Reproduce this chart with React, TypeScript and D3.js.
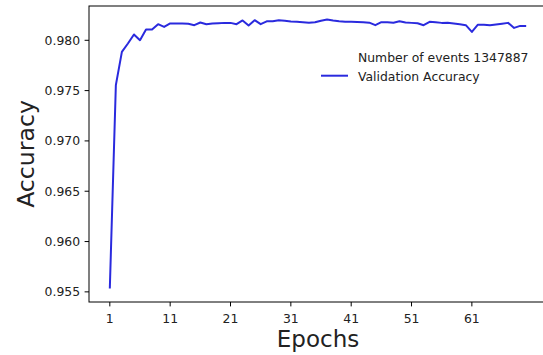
import React from "react";
import * as d3 from "d3";

const epochs: number[] = Array.from({ length: 70 }, (_, i) => i + 1);
const accuracy: number[] = [
  0.95533, 0.97554, 0.97885, 0.97968, 0.98058, 0.98001, 0.98107, 0.98107, 0.9816, 0.98133,
  0.98167, 0.98167, 0.98167, 0.98165, 0.9815, 0.98177, 0.9816, 0.98167, 0.9817, 0.98173,
  0.98173, 0.9816, 0.98197, 0.98147, 0.982, 0.9816, 0.98188, 0.9819, 0.982, 0.98195,
  0.98187, 0.98183, 0.9818, 0.98175, 0.9818, 0.98195, 0.98207, 0.98197, 0.9819, 0.98185,
  0.98183, 0.98182, 0.9818, 0.98175, 0.9815, 0.9818, 0.9818, 0.98175, 0.9819, 0.98177,
  0.98173, 0.9817, 0.9815, 0.98183, 0.9818, 0.98173, 0.98175, 0.98167, 0.9816, 0.9815,
  0.98083, 0.98155, 0.98155, 0.9815, 0.98157, 0.98165, 0.98173, 0.98123, 0.98143, 0.98143,
];
const xTicks: number[] = [1, 11, 21, 31, 41, 51, 61];
const yTicks: number[] = [0.955, 0.96, 0.965, 0.97, 0.975, 0.98];
const legendLabels: string[] = ["Number of events 1347887", "Validation Accuracy"];
const xLabel = "Epochs";
const yLabel = "Accuracy";

const W = 543;
const H = 355;
const plot = { left: 89, right: 547, top: 6, bottom: 302 };
const FONT = "DejaVu Sans, sans-serif";
const LINE = "#2a2ade";

export default function App() {
  const xMin = d3.min(epochs)!;
  const xMax = d3.max(epochs)!;
  const xPad = (xMax - xMin) * 0.05;
  const yMin = d3.min(accuracy)!;
  const yMax = d3.max(accuracy)!;
  const yPad = (yMax - yMin) * 0.05;

  const x = d3.scaleLinear().domain([xMin - xPad, xMax + xPad]).range([plot.left, plot.right]);
  const y = d3.scaleLinear().domain([yMin - yPad, yMax + yPad]).range([plot.bottom, plot.top]);

  const line = d3
    .line<number>()
    .x((_, i) => x(epochs[i]))
    .y((d) => y(d));

  const tickLen = 4.4;
  const fs = 12.4;

  return (
    <svg
      width={W}
      height={H}
      style={{ position: "absolute", left: 0, top: 0, background: "#fff" }}
      fontFamily={FONT}
    >
      <rect x={0} y={0} width={W} height={H} fill="#fff" />
      <path d={line(accuracy) || ""} fill="none" stroke={LINE} strokeWidth={2} strokeLinejoin="round" />
      {/* spines */}
      <rect
        x={plot.left}
        y={plot.top}
        width={plot.right - plot.left}
        height={plot.bottom - plot.top}
        fill="none"
        stroke="#000"
        strokeWidth={1}
      />
      {/* y ticks */}
      {yTicks.map((t) => (
        <g key={t}>
          <line x1={plot.left - tickLen} x2={plot.left} y1={y(t)} y2={y(t)} stroke="#000" strokeWidth={1} />
          <text x={plot.left - tickLen - 4.5} y={y(t)} dy="0.36em" textAnchor="end" fontSize={fs} fill="#222">
            {d3.format(".3f")(t)}
          </text>
        </g>
      ))}
      {/* x ticks */}
      {xTicks.map((t) => (
        <g key={t}>
          <line x1={x(t)} x2={x(t)} y1={plot.bottom} y2={plot.bottom + tickLen} stroke="#000" strokeWidth={1} />
          <text x={x(t)} y={322.5} textAnchor="middle" fontSize={fs} fill="#222">
            {t}
          </text>
        </g>
      ))}
      {/* axis labels */}
      <text x={(plot.left + plot.right) / 2} y={347} textAnchor="middle" fontSize={23} fill="#222">
        {xLabel}
      </text>
      <text
        transform={`translate(34,${(plot.top + plot.bottom) / 2}) rotate(-90)`}
        textAnchor="middle"
        fontSize={23.6}
        fill="#222"
      >
        {yLabel}
      </text>
      {/* legend */}
      <text x={358} y={61.5} fontSize={fs} fill="#222">
        {legendLabels[0]}
      </text>
      <line x1={321} x2={348} y1={75.7} y2={75.7} stroke={LINE} strokeWidth={2} />
      <text x={358} y={80.7} fontSize={fs} fill="#222">
        {legendLabels[1]}
      </text>
    </svg>
  );
}
